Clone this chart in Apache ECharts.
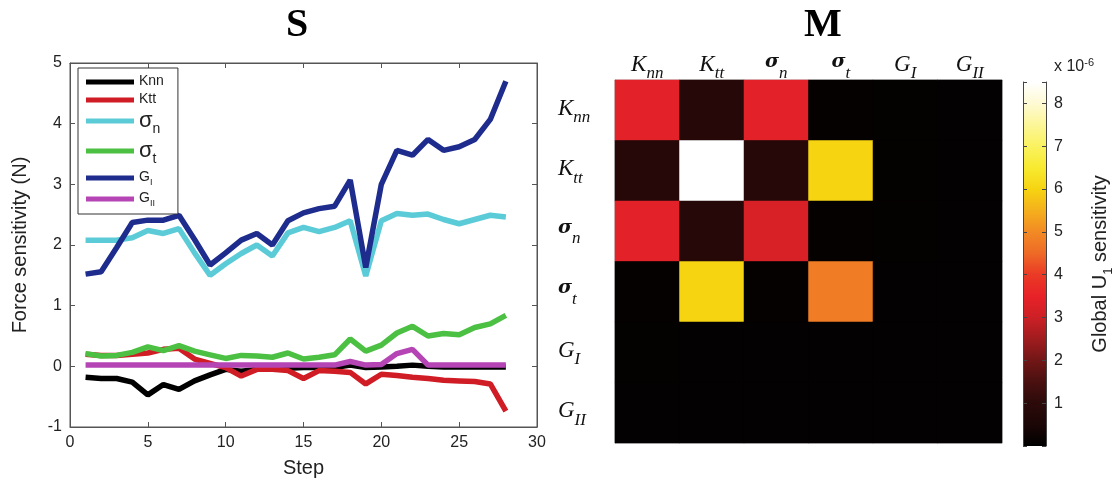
<!DOCTYPE html>
<html>
<head>
<meta charset="utf-8">
<script src="https://cdn.jsdelivr.net/npm/echarts@6/dist/echarts.min.js"></script>
<style>html,body{margin:0;padding:0;background:#fff}#c{width:1116px;height:488px}</style>
</head>
<body>
<div id="c"></div>
<script>
// ---------- data ----------
var steps = [1,2,3,4,5,6,7,8,9,10,11,12,13,14,15,16,17,18,19,20,21,22,23,24,25,26,27,28];
var knn = [-0.18,-0.20,-0.20,-0.26,-0.47,-0.30,-0.38,-0.24,-0.14,-0.05,-0.08,-0.05,-0.03,-0.03,-0.02,-0.02,-0.02,0.02,-0.02,-0.01,0.00,0.02,0.00,-0.01,-0.01,-0.01,-0.01,-0.01];
var ktt = [0.20,0.18,0.18,0.20,0.22,0.28,0.30,0.12,0.05,-0.02,-0.16,-0.05,-0.05,-0.07,-0.20,-0.07,-0.08,-0.10,-0.29,-0.13,-0.15,-0.18,-0.20,-0.23,-0.24,-0.25,-0.29,-0.74];
var sigN = [2.08,2.08,2.08,2.12,2.24,2.19,2.27,1.87,1.50,1.69,1.86,2.00,1.82,2.20,2.29,2.22,2.29,2.40,1.49,2.40,2.52,2.49,2.51,2.42,2.35,2.42,2.49,2.46];
var sigT = [0.21,0.17,0.18,0.23,0.32,0.26,0.34,0.25,0.19,0.13,0.18,0.17,0.15,0.22,0.12,0.15,0.19,0.45,0.25,0.35,0.55,0.66,0.50,0.54,0.52,0.64,0.70,0.84];
var gI = [1.52,1.56,1.96,2.37,2.41,2.41,2.49,2.09,1.67,1.87,2.08,2.19,2.00,2.40,2.53,2.60,2.64,3.07,1.63,3.00,3.56,3.48,3.74,3.56,3.62,3.74,4.07,4.70];
var gII = [0.02,0.02,0.02,0.02,0.02,0.02,0.02,0.02,0.02,0.02,0.02,0.02,0.02,0.02,0.02,0.02,0.02,0.08,0.02,0.03,0.21,0.28,0.02,0.02,0.02,0.02,0.02,0.02];
var seriesNames = ['Knn','Ktt','σn','σt','GI','GII'];

var params = ['Knn','Ktt','σn','σt','GI','GII'];
// global sensitivity (x 1e-6), rows = params (top to bottom), cols = params (left to right)
var rowKnn = [3.4,0.8,3.4,0.1,0.08,0.05];
var rowKtt = [0.8,8.5,0.8,6.0,0.08,0.05];
var rowSn  = [3.4,0.8,3.2,0.1,0.08,0.05];
var rowSt  = [0.1,6.0,0.1,4.8,0.06,0.05];
var rowGI  = [0.08,0.06,0.06,0.06,0.05,0.05];
var rowGII = [0.05,0.05,0.05,0.05,0.05,0.05];
var cbMin = 0, cbMax = 8.5;
// ---------------------------

var colors = ['#000000','#d01c24','#5ccbd8','#4cc043','#1e2c8e','#b545b5'];
var cmap = ['#000000','#1c0606','#2c0a0a','#4a1010','#721616','#a01c1e','#cc2026','#e82228','#ea3a26','#ee6a26','#f28a24','#f4b01c','#f6d412','#f8ea30','#faf260','#fcf698','#fefad4','#ffffff'];
var lineData = [knn,ktt,sigN,sigT,gI,gII];
var matrix = [rowKnn,rowKtt,rowSn,rowSt,rowGI,rowGII];
var heatData = [];
for (var r = 0; r < matrix.length; r++)
  for (var c = 0; c < matrix[r].length; c++)
    heatData.push([c, r, matrix[r][c]]);

var legendFmt = {
  'Knn': '{p|Knn}', 'Ktt': '{p|Ktt}',
  'σn': '{g|σ}{gs|n}', 'σt': '{g|σ}{gs|t}',
  'GI': '{p|G}{ps|I}', 'GII': '{p|G}{ps|II}'
};
var mathFmt = {
  'Knn': '{i|K}{s|nn}', 'Ktt': '{i|K}{s|tt}',
  'σn': '{b|σ}{s|n}', 'σt': '{b|σ}{s|t}',
  'GI': '{i|G}{s|I}', 'GII': '{i|G}{s|II}'
};
var serif = 'Liberation Serif';
var sans = 'Liberation Sans';
var mathRich = {
  i: {fontFamily: serif, fontStyle: 'italic', fontSize: 23, lineHeight: 26, verticalAlign: 'top', color: '#111'},
  b: {fontFamily: 'DejaVu Serif', fontStyle: 'italic', fontWeight: 'bold', fontSize: 19, lineHeight: 26, verticalAlign: 'top', color: '#111'},
  s: {fontFamily: serif, fontStyle: 'italic', fontSize: 17, lineHeight: 14, padding: [12,0,0,0], verticalAlign: 'top', color: '#111'}
};

var series = lineData.map(function (arr, k) {
  return {
    name: seriesNames[k], type: 'line', xAxisIndex: 0, yAxisIndex: 0,
    data: steps.map(function (s, j) { return [s, arr[j]]; }),
    showSymbol: false, symbol: 'none',
    lineStyle: {width: 5.5, color: colors[k]}, itemStyle: {color: colors[k]},
    z: 2 + k * 0.01
  };
});
series.push({
  type: 'heatmap', xAxisIndex: 2, yAxisIndex: 2, data: heatData,
  itemStyle: {borderWidth: 0}, emphasis: {disabled: true}
});

var axisCol = '#555';
function tick(len, col) { return {show: true, inside: true, length: len, lineStyle: {color: col}}; }
var chart = echarts.init(document.getElementById('c'), null, {renderer: 'canvas'});
var baseGraphics = [
  {id: 'tS', type: 'text', x: 297, y: 26, style: {text: 'S', font: 'bold 40px "Liberation Serif"', fill: '#000', textAlign: 'center', textVerticalAlign: 'middle'}},
  {id: 'tM', type: 'text', x: 823, y: 26, style: {text: 'M', font: 'bold 40px "Liberation Serif"', fill: '#000', textAlign: 'center', textVerticalAlign: 'middle'}},
  {id: 'exp', type: 'text', x: 1054, y: 67, style: {text: '{a|x 10}{b|-6}', rich: {
    a: {fontFamily: sans, fontSize: 16, fill: '#222', lineHeight: 18},
    b: {fontFamily: sans, fontSize: 11, fill: '#222', lineHeight: 11, padding: [0,0,9,0]}
  }, textVerticalAlign: 'middle'}}
];
chart.setOption({
  animation: false,
  backgroundColor: '#fff',
  graphic: baseGraphics,
  legend: {
    data: seriesNames, orient: 'vertical', left: 78, top: 68,
    padding: [6, 14, 6, 8], itemGap: 4, itemWidth: 48, itemHeight: 5, icon: 'rect',
    borderColor: '#333', borderWidth: 1, backgroundColor: '#fff',
    formatter: function (n) { return legendFmt[n]; },
    textStyle: {
      rich: {
        p: {fontFamily: sans, fontSize: 14, lineHeight: 16, verticalAlign: 'top', color: '#222'},
        ps: {fontFamily: sans, fontSize: 9, lineHeight: 8, padding: [8,0,0,0], verticalAlign: 'top', color: '#222'},
        g: {fontFamily: sans, fontSize: 22, lineHeight: 22, verticalAlign: 'top', color: '#222'},
        gs: {fontFamily: sans, fontSize: 14, lineHeight: 12, padding: [12,0,0,0], verticalAlign: 'top', color: '#222'}
      }
    },
    selectedMode: false
  },
  visualMap: {
    type: 'continuous', seriesIndex: 6, min: cbMin, max: cbMax, show: false,
    inRange: {color: cmap}
  },
  grid: [
    {left: 70, top: 63, width: 467, height: 364, show: true, borderColor: axisCol, borderWidth: 1},
    {left: 1023, top: 82, width: 30, height: 364},
    {left: 615, top: 80, width: 387, height: 363, show: true, borderColor: '#aaa', borderWidth: 1, backgroundColor: '#070303'}
  ],
  xAxis: [
    {type: 'value', gridIndex: 0, min: 0, max: 30, interval: 5, position: 'bottom',
     name: 'Step', nameLocation: 'middle', nameGap: 31,
     nameTextStyle: {fontFamily: sans, fontSize: 20, color: '#222'},
     axisLine: {show: true, onZero: false, lineStyle: {color: axisCol}},
     axisTick: tick(5, axisCol),
     axisLabel: {fontFamily: sans, fontSize: 16, color: '#222', margin: 8},
     splitLine: {show: false}},
    {type: 'value', gridIndex: 0, min: 0, max: 30, interval: 5, position: 'top',
     axisLine: {show: true, onZero: false, lineStyle: {color: axisCol}},
     axisTick: tick(5, axisCol),
     axisLabel: {show: false}, splitLine: {show: false}},
    {type: 'category', gridIndex: 2, data: params, position: 'top',
     axisLine: {show: true, lineStyle: {color: '#aaa'}}, axisTick: {show: false},
     axisLabel: {interval: 0, margin: 1, formatter: function (v) { return mathFmt[v]; }, rich: mathRich},
     splitLine: {show: false}},
    {type: 'value', gridIndex: 1, min: 0, max: 1, show: false}
  ],
  yAxis: [
    {type: 'value', gridIndex: 0, min: -1, max: 5, interval: 1, position: 'left',
     name: 'Force sensitivity (N)', nameLocation: 'middle', nameGap: 40,
     nameTextStyle: {fontFamily: sans, fontSize: 20, color: '#222'},
     axisLine: {show: true, onZero: false, lineStyle: {color: axisCol}},
     axisTick: tick(5, axisCol),
     axisLabel: {fontFamily: sans, fontSize: 16, color: '#222', margin: 8},
     splitLine: {show: false}},
    {type: 'value', gridIndex: 0, min: -1, max: 5, interval: 1, position: 'right',
     axisLine: {show: true, onZero: false, lineStyle: {color: axisCol}},
     axisTick: tick(5, axisCol),
     axisLabel: {show: false}, splitLine: {show: false}},
    {type: 'category', gridIndex: 2, data: params, inverse: true, position: 'left',
     axisLine: {show: true, lineStyle: {color: '#aaa'}}, axisTick: {show: false},
     axisLabel: {interval: 0, margin: 57, align: 'left', formatter: function (v) { return mathFmt[v]; }, rich: mathRich},
     splitLine: {show: false}},
    {type: 'value', gridIndex: 1, min: cbMin, max: cbMax, interval: 1, position: 'right', z: 10,
     name: 'Global U{s|1} sensitivity', nameLocation: 'middle', nameGap: 44, nameRotate: 90,
     nameTextStyle: {fontFamily: sans, fontSize: 20, color: '#222',
       rich: {s: {fontFamily: sans, fontSize: 13, lineHeight: 10, padding: [12,0,0,0], verticalAlign: 'top', color: '#222'}}},
     axisLine: {show: true, onZero: false, lineStyle: {color: '#444'}},
     axisTick: tick(4, '#444'),
     axisLabel: {fontFamily: sans, fontSize: 16, color: '#222', margin: 8,
       formatter: function (v) { return (v >= 1 && Math.round(v) === v) ? String(v) : ''; }},
     splitLine: {show: false}},
    {type: 'value', gridIndex: 1, min: cbMin, max: cbMax, interval: 1, position: 'left', z: 10,
     axisLine: {show: true, onZero: false, lineStyle: {color: '#444'}},
     axisTick: tick(4, '#444'),
     axisLabel: {show: false}, splitLine: {show: false}}
  ],
  series: series
});
// colour-bar key, placed through the colour-bar axis scale
var p0 = chart.convertToPixel({xAxisIndex: 3, yAxisIndex: 3}, [0, cbMin]);
var p1 = chart.convertToPixel({xAxisIndex: 3, yAxisIndex: 3}, [1, cbMax]);
var stops = cmap.map(function (col, k) { return {offset: k / (cmap.length - 1), color: col}; });
chart.setOption({
  graphic: baseGraphics.concat([{
    id: 'cbar', type: 'rect', z: 1,
    shape: {x: p0[0], y: p1[1], width: p1[0] - p0[0], height: p0[1] - p1[1]},
    style: {fill: new echarts.graphic.LinearGradient(0, 1, 0, 0, stops)}
  }])
});
</script>
</body>
</html>
